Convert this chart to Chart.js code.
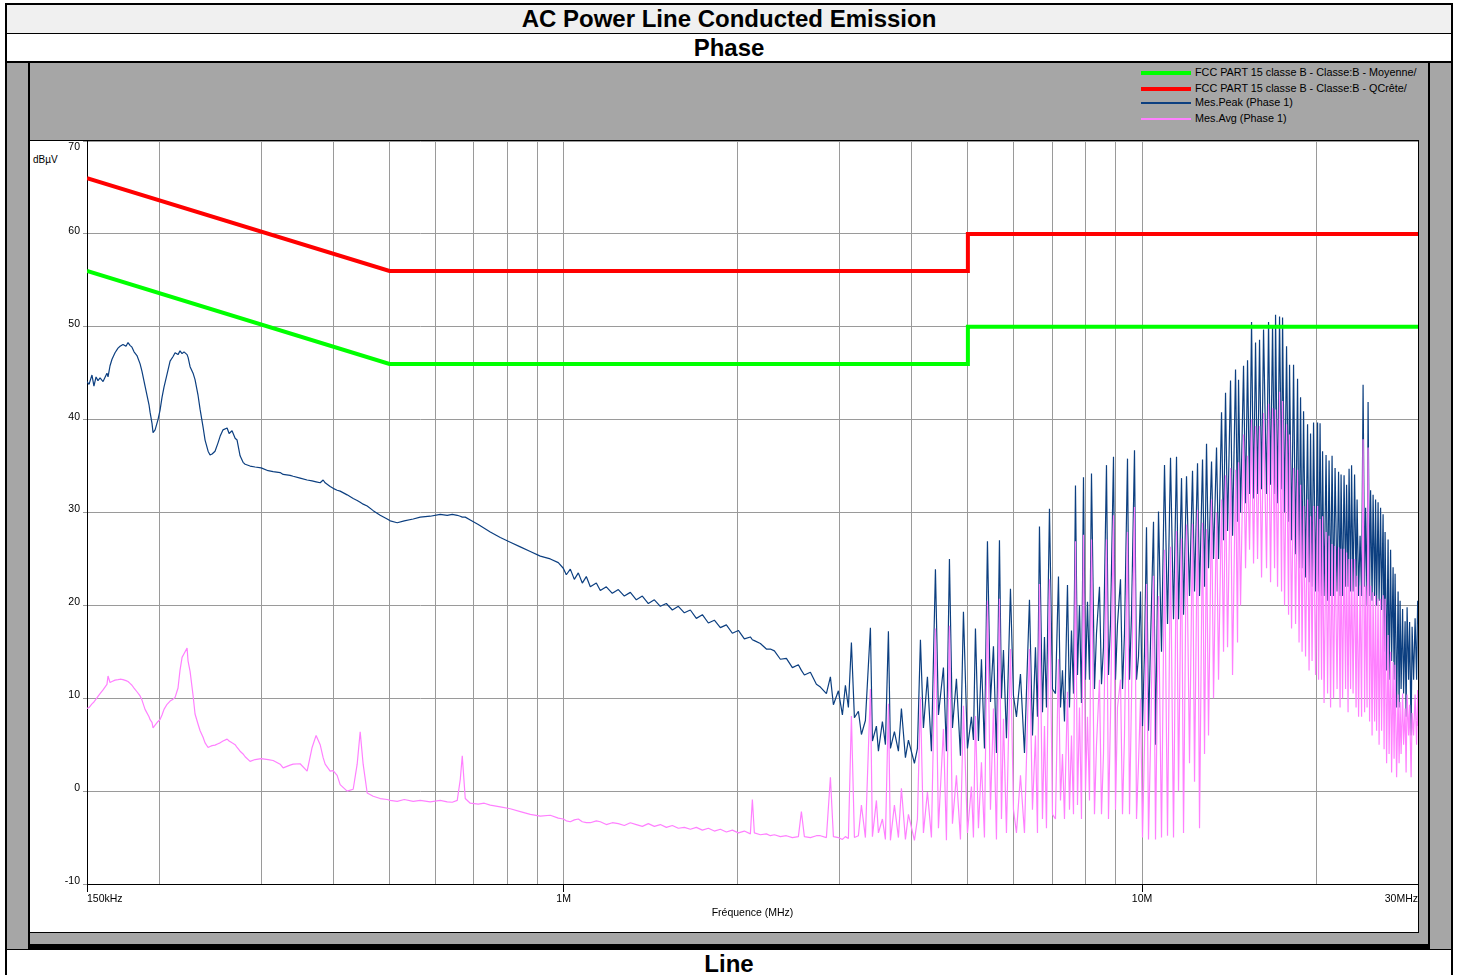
<!DOCTYPE html>
<html>
<head>
<meta charset="utf-8">
<title>AC Power Line Conducted Emission</title>
<script src="https://cdn.jsdelivr.net/npm/chart.js@4.4.0/dist/chart.umd.min.js"></script>
<style>
  body { margin: 0; background: #fff; font-family: "Liberation Sans", Arial, sans-serif; }
  .bande { position: absolute; left: 5px; width: 1444px; border-left: 2px solid #000; border-right: 2px solid #000;
           text-align: center; font-weight: bold; font-size: 24px; color: #000; }
  #titre { top: 3px; height: 28px; line-height: 28px; border-top: 2px solid #000; border-bottom: 1px solid #000; background: #f0f0f0; }
  #phase { top: 34px; height: 27px; line-height: 27px; border-bottom: 2px solid #000; background: #fff; }
  #cadre { top: 63px; height: 886px; background: #a6a6a6; }
  #ligne { top: 949px; height: 26px; line-height: 28px; border-top: 1px solid #000; background: #fff; }
  #panneau { position: absolute; left: 28px; top: 63px; width: 1398px; height: 881px; background: #a6a6a6;
             border-left: 2px solid #000; border-right: 2px solid #000; border-bottom: 5px solid #000; }
  #fond { position: absolute; left: 30px; top: 140px; width: 1388px; height: 791px; background: #fff;
          border-top: 1px solid #000; border-right: 1px solid #000; border-bottom: 1px solid #000; }
  #zone { position: absolute; left: 31px; top: 141px; width: 1387px; height: 791px; }
  #unite { position: absolute; left: 33px; top: 154px; font-size: 10px; line-height: 12px; color: #000; }
  #legende { position: absolute; left: 1141px; top: 65px; font-size: 10.8px; color: #000; }
  #legende .item { position: absolute; left: 0; height: 14px; white-space: nowrap; }
  #legende .trait { position: absolute; left: 0; width: 50px; }
  #legende .txt { position: absolute; left: 54px; top: 0; line-height: 14px; }
</style>
</head>
<body>
<div class="bande" id="titre">AC Power Line Conducted Emission</div>
<div class="bande" id="phase">Phase</div>
<div class="bande" id="cadre"></div>
<div id="panneau"></div>
<div id="fond"></div>
<div id="unite">dBµV</div>
<div id="legende"></div>
<div id="zone"><canvas id="grafik_emission"></canvas></div>
<div class="bande" id="ligne">Line</div>

<script>
var freqMHz = [
  0.1500, 0.1512, 0.1530, 0.1542, 0.1555, 0.1567, 0.1580, 0.1599, 0.1624, 0.1631,
  0.1644, 0.1657, 0.1677, 0.1697, 0.1711, 0.1731, 0.1752, 0.1766, 0.1780, 0.1794,
  0.1809, 0.1830, 0.1853, 0.1867, 0.1890, 0.1920, 0.1928, 0.1943, 0.1951, 0.1967,
  0.1990, 0.2006, 0.2022, 0.2038, 0.2063, 0.2088, 0.2113, 0.2130, 0.2155, 0.2172,
  0.2190, 0.2207, 0.2234, 0.2243, 0.2261, 0.2288, 0.2306, 0.2334, 0.2353, 0.2381,
  0.2400, 0.2429, 0.2448, 0.2468, 0.2497, 0.2527, 0.2548, 0.2578, 0.2620, 0.2641,
  0.2672, 0.2705, 0.2726, 0.2759, 0.2792, 0.2815, 0.2871, 0.2929, 0.3000, 0.3085,
  0.3147, 0.3236, 0.3275, 0.3367, 0.3408, 0.3504, 0.3603, 0.3675, 0.3734, 0.3795,
  0.3840, 0.3871, 0.3949, 0.3996, 0.4060, 0.4109, 0.4225, 0.4328, 0.4397, 0.4450,
  0.4503, 0.4576, 0.4687, 0.4819, 0.4955, 0.5015, 0.5157, 0.5303, 0.5496, 0.5652,
  0.5881, 0.6120, 0.6293, 0.6420, 0.6549, 0.6628, 0.6681, 0.6761, 0.6897, 0.7120,
  0.7293, 0.7469, 0.7773, 0.8089, 0.8417, 0.8759, 0.9115, 0.9485, 0.9792, 0.9989,
  1.0109, 1.0272, 1.0437, 1.0604, 1.0774, 1.0947, 1.1123, 1.1392, 1.1575, 1.1855,
  1.2141, 1.2435, 1.2736, 1.3044, 1.3359, 1.3682, 1.4013, 1.4352, 1.4699, 1.5054,
  1.5418, 1.5791, 1.6173, 1.6564, 1.6964, 1.7375, 1.7795, 1.8225, 1.8666, 1.9117,
  1.9579, 2.0053, 2.0537, 2.1034, 2.1202, 2.1372, 2.1889, 2.2418, 2.2778, 2.3144,
  2.3703, 2.4276, 2.4863, 2.5464, 2.5771, 2.6080, 2.6711, 2.7357, 2.7796, 2.8468,
  2.8925, 2.9273, 2.9861, 3.0341, 3.0705, 3.1074, 3.1448, 3.1826, 3.2337, 3.2726,
  3.3251, 3.3920, 3.4191, 3.4740, 3.5018, 3.5580, 3.6007, 3.6440, 3.6732, 3.7321,
  3.7920, 3.8376, 3.8992, 3.9461, 4.0415, 4.0901, 4.1393, 4.1890, 4.2562, 4.3246,
  4.3940, 4.4468, 4.5362, 4.5907, 4.6459, 4.7018, 4.7772, 4.8540, 4.9123, 4.9912,
  5.0713, 5.1118, 5.1527, 5.2146, 5.2773, 5.3407, 5.4049, 5.4699, 5.5356, 5.6021,
  5.6694, 5.7148, 5.7605, 5.8297, 5.9234, 5.9945, 6.0665, 6.1640, 6.2629, 6.3888,
  6.4656, 6.5433, 6.5957, 6.6484, 6.7283, 6.7821, 6.8363, 6.9185, 7.0016, 7.0858,
  7.1709, 7.2283, 7.2861, 7.3443, 7.4326, 7.4920, 7.5520, 7.6123, 7.6731, 7.7345,
  7.7964, 7.8588, 7.9215, 7.9849, 8.0487, 8.1131, 8.1780, 8.2762, 8.3424, 8.4427,
  8.5102, 8.5782, 8.6812, 8.7507, 8.8208, 8.9267, 8.9981, 9.0701, 9.1791, 9.2525,
  9.3264, 9.4385, 9.5140, 9.5901, 9.7053, 9.7829, 9.8611, 9.9401, 10.0195, 10.0996,
  10.1803, 10.2617, 10.3439, 10.4681, 10.5518, 10.6786, 10.8071, 10.9369, 11.0683, 11.2014,
  11.3359, 11.4721, 11.5639, 11.7029, 11.7964, 11.9381, 12.0816, 12.2269, 12.3247, 12.4728,
  12.5725, 12.7236, 12.8253, 12.9278, 13.0312, 13.1879, 13.2933, 13.4530, 13.5606, 13.7236,
  13.8333, 13.9439, 14.0554, 14.2244, 14.3381, 14.5103, 14.6264, 14.6847, 14.8023, 14.9801,
  15.0998, 15.2206, 15.3423, 15.4651, 15.5886, 15.7132, 15.8389, 15.9655, 16.0934, 16.2219,
  16.4168, 16.5481, 16.6806, 16.8139, 16.9483, 17.0159, 17.1520, 17.2891, 17.4275, 17.4969,
  17.6368, 17.7778, 17.9199, 17.9914, 18.1355, 18.2804, 18.4265, 18.5739, 18.6852, 18.7972,
  18.9098, 19.0230, 19.1750, 19.3284, 19.4442, 19.5608, 19.6780, 19.7957, 19.9540, 20.1136,
  20.1938, 20.3149, 20.4366, 20.5180, 20.6410, 20.8059, 20.9306, 21.0560, 21.1823, 21.3092,
  21.4367, 21.5651, 21.7375, 21.8678, 21.9989, 22.0868, 22.2190, 22.3522, 22.4860, 22.5757,
  22.7110, 22.8016, 22.9383, 23.0298, 23.1677, 23.3065, 23.4459, 23.5395, 23.6806, 23.8226,
  23.9654, 24.1089, 24.2533, 24.3500, 24.4958, 24.5937, 24.7410, 24.8399, 24.9887, 25.0883,
  25.2386, 25.3392, 25.4403, 25.5928, 25.6949, 25.8490, 25.9521, 26.1075, 26.2117, 26.3161,
  26.4738, 26.6325, 26.7387, 26.8991, 27.0064, 27.1681, 27.2765, 27.3852, 27.5493, 27.7144,
  27.8250, 27.9361, 28.0476, 28.2156, 28.3281, 28.4977, 28.6114, 28.7256, 28.8978, 29.0131,
  29.1870, 29.3035, 29.4789, 29.6554, 29.8331, 29.9600, 30.0000
];

// Mes.Peak (Phase 1) en dBµV
var peakDb = [
  44.1, 43.8, 44.8, 43.6, 44.6, 44.2, 44.5, 44.1, 45.0, 44.6,
  45.8, 46.5, 47.2, 47.7, 47.9, 48.1, 47.9, 48.3, 48.0, 47.8,
  47.3, 46.9, 46.0, 45.2, 43.6, 41.6, 40.8, 39.6, 38.6, 38.9,
  40.0, 41.0, 42.4, 43.5, 44.9, 46.3, 46.8, 47.2, 47.0, 47.4,
  47.1, 47.3, 47.0, 46.7, 45.7, 45.0, 44.3, 42.6, 41.1, 39.2,
  37.8, 36.6, 36.2, 36.3, 36.6, 37.5, 38.2, 38.9, 39.1, 38.5,
  38.8, 38.0, 37.8, 36.1, 35.4, 35.2, 35.0, 34.9, 34.8, 34.5,
  34.4, 34.3, 34.1, 34.0, 33.9, 33.7, 33.5, 33.4, 33.3, 33.2,
  33.5, 33.2, 32.8, 32.6, 32.4, 32.3, 31.9, 31.5, 31.3, 31.1,
  30.9, 30.7, 30.2, 29.7, 29.3, 29.1, 28.9, 29.1, 29.3, 29.5,
  29.6, 29.8, 29.7, 29.8, 29.7, 29.6, 29.5, 29.5, 29.2, 28.7,
  28.3, 27.9, 27.3, 26.8, 26.3, 25.8, 25.3, 25.0, 24.6, 24.0,
  23.3, 23.9, 22.8, 23.5, 22.4, 23.1, 22.0, 22.4, 21.6, 22.0,
  21.3, 21.7, 21.0, 21.4, 20.6, 21.0, 20.2, 20.6, 19.9, 20.2,
  19.5, 19.9, 19.2, 19.5, 18.6, 19.0, 18.1, 18.4, 17.6, 17.9,
  17.0, 17.3, 16.4, 16.6, 16.3, 16.2, 15.9, 15.3, 15.3, 15.1,
  14.2, 14.3, 13.3, 13.6, 13.0, 12.5, 12.8, 11.5, 11.2, 10.5,
  12.3, 9.3, 10.8, 8.2, 11.4, 9.0, 16.0, 7.9, 8.6, 6.1,
  7.6, 17.6, 5.4, 7.0, 4.3, 7.5, 5.0, 17.2, 4.6, 6.4,
  4.3, 8.9, 3.6, 5.5, 3.0, 4.6, 16.3, 6.8, 12.3, 4.3,
  23.9, 8.2, 13.3, 4.3, 25.0, 6.8, 12.1, 3.8, 19.3, 4.6,
  8.0, 5.5, 17.5, 5.4, 14.2, 4.6, 26.9, 9.6, 15.6, 4.1,
  27.0, 10.0, 15.2, 5.7, 21.8, 10.3, 8.0, 12.6, 4.1, 20.6,
  6.0, 15.5, 8.0, 28.5, 8.5, 16.6, 9.0, 30.4, 11.0, 10.5,
  23.1, 9.0, 13.0, 7.5, 22.2, 9.0, 17.3, 10.5, 32.9, 12.5,
  20.0, 9.5, 33.8, 12.0, 20.4, 12.0, 34.2, 11.0, 17.0, 22.0,
  11.5, 15.5, 35.1, 12.5, 18.0, 36.0, 12.0, 18.0, 22.8, 11.0,
  17.0, 35.8, 12.0, 19.0, 36.7, 12.0, 14.5, 21.5, 7.0, 15.0,
  28.4, 6.5, 16.0, 29.0, 5.0, 30.1, 15.0, 35.1, 18.0, 35.9,
  18.5, 36.0, 18.5, 33.7, 19.0, 33.9, 21.0, 34.5, 21.5, 35.3,
  21.0, 35.7, 22.0, 37.4, 24.0, 35.5, 25.0, 37.0, 25.0, 40.8,
  27.0, 42.9, 28.0, 44.2, 27.5, 45.4, 29.0, 44.3, 30.0, 45.8,
  31.0, 46.4, 32.0, 50.5, 31.5, 48.3, 32.0, 48.6, 32.5, 49.7,
  32.0, 50.5, 33.0, 50.2, 32.0, 51.3, 31.0, 51.1, 32.5, 51.0,
  30.0, 47.9, 29.0, 45.9, 27.0, 45.9, 25.5, 44.4, 24.0, 42.4,
  24.0, 40.9, 23.0, 39.5, 22.5, 38.5, 22.0, 39.7, 21.5, 39.7,
  21.5, 39.6, 21.0, 36.6, 21.0, 36.2, 20.5, 35.6, 21.0, 36.1,
  21.0, 34.8, 21.5, 34.4, 21.0, 34.1, 21.0, 34.0, 22.0, 33.0,
  22.0, 34.7, 21.5, 35.1, 21.5, 34.1, 22.0, 31.4, 21.0, 27.5,
  21.0, 43.75, 22.0, 30.5, 20.0, 41.9, 21.0, 32.4, 20.5, 31.9,
  21.0, 31.4, 20.0, 31.1, 20.5, 30.5, 19.5, 29.8, 15.0, 27.9,
  13.0, 27.1, 12.0, 26.0, 14.0, 24.1, 12.0, 23.4, 9.0, 21.5,
  9.0, 20.5, 11.0, 19.6, 10.5, 18.3, 8.0, 19.8, 12.0, 18.2,
  6.0, 17.7, 12.0, 18.6, 12.0, 20.5, 18.0
];

// Mes.Avg (Phase 1) en dBµV
var avgDb = [
  8.9, 9.0, 9.4, 9.6, 9.9, 10.2, 10.5, 10.9, 11.5, 12.4,
  11.7, 11.8, 11.95, 12.0, 12.05, 12.0, 11.9, 11.8, 11.6, 11.4,
  11.1, 10.7, 10.25, 9.8, 8.8, 8.0, 7.7, 7.4, 6.8, 7.1,
  7.5, 7.7, 8.2, 8.8, 9.35, 9.7, 9.9, 10.1, 11.1, 13.0,
  14.4, 14.8, 15.4, 14.0, 12.9, 10.3, 8.3, 7.2, 6.5, 5.8,
  5.2, 4.7, 4.8, 4.9, 4.95, 5.1, 5.2, 5.4, 5.6, 5.4,
  5.2, 5.0, 4.7, 4.3, 4.0, 3.7, 3.2, 3.4, 3.5, 3.4,
  3.3, 2.9, 2.5, 2.8, 2.9, 2.95, 2.15, 4.7, 6.0, 5.0,
  3.6, 2.9, 2.15, 2.2, 1.7, 0.7, 0.0, 0.2, 2.9, 6.4,
  2.9, -0.2, -0.55, -0.8, -0.9, -1.0, -1.1, -0.9, -1.1, -1.0,
  -1.15, -1.0, -1.15, -1.2, -1.0, 1.25, 3.8, -0.8, -1.3, -1.4,
  -1.3, -1.5, -1.7, -1.9, -2.2, -2.5, -2.7, -2.6, -2.9, -3.0,
  -3.2, -3.3, -3.1, -3.0, -3.3, -3.4, -3.4, -3.2, -3.3, -3.6,
  -3.4, -3.5, -3.7, -3.4, -3.6, -3.8, -3.5, -3.8, -3.6, -3.9,
  -3.7, -4.0, -3.9, -4.1, -3.9, -4.2, -4.0, -4.3, -4.1, -4.4,
  -4.2, -4.5, -4.3, -4.6, -0.9, -4.5, -4.7, -4.6, -4.8, -4.7,
  -4.9, -4.8, -5.0, -4.9, -2.2, -4.9, -5.0, -4.8, -4.8, -5.0,
  1.5, -4.9, -5.0, -5.2, -4.9, -5.1, 8.1, -5.0, -4.8, -1.5,
  -5.0, 11.0, -4.9, -1.0, -4.5, -3.0, -5.2, 9.4, -5.3, -1.5,
  -5.0, 0.3, -5.2, -2.5, -5.3, -3.0, 10.1, -4.5, -0.1, -5.0,
  17.5, -4.0, 6.7, -5.3, 17.8, -3.5, 1.7, -5.2, 9.2, -4.5,
  0.5, -5.0, 8.1, -4.0, 3.1, -5.0, 20.5, -2.0, 8.9, -5.2,
  20.7, -3.0, 7.8, -4.5, 15.3, -2.0, -4.5, 1.7, -4.5, 15.3,
  -2.0, 6.0, -4.5, 22.3, -3.0, 7.0, -4.0, 22.8, -2.5, -3.0,
  14.2, -1.0, 4.0, -3.0, 10.7, -2.0, 6.0, -2.5, 26.9, -1.5,
  9.0, -3.0, 27.6, 0.0, 8.0, -1.0, 27.1, -2.5, 5.0, 12.0,
  -2.5, 4.0, 27.1, -3.0, 8.0, 29.7, -2.0, 9.0, 12.0, -2.5,
  6.0, 27.9, -2.5, 10.0, 30.6, -3.0, 3.0, 10.0, -5.0, 5.0,
  22.3, -5.2, 5.0, 23.2, -5.2, 21.0, -5.0, 26.0, -4.8, 26.3,
  -5.0, 28.0, 0.0, 27.2, -4.5, 28.7, 3.0, 28.8, 1.0, 30.3,
  -4.0, 28.9, 4.0, 28.2, 6.0, 31.4, 10.0, 30.0, 12.0, 31.4,
  15.0, 34.0, 15.5, 34.8, 12.5, 34.6, 16.0, 35.4, 20.0, 38.4,
  24.0, 36.1, 26.0, 40.0, 24.5, 39.3, 25.0, 39.3, 23.0, 40.7,
  24.0, 41.7, 22.5, 41.25, 24.0, 41.1, 22.0, 43.0, 21.5, 42.0,
  20.0, 39.5, 19.0, 38.4, 17.5, 34.8, 18.0, 34.6, 16.0, 33.0,
  15.0, 30.7, 14.5, 31.4, 13.0, 29.6, 14.0, 30.7, 12.5, 30.7,
  12.0, 29.3, 12.0, 29.6, 9.5, 27.9, 10.5, 27.5, 9.0, 26.6,
  10.0, 26.4, 11.0, 26.25, 9.0, 26.1, 10.0, 26.1, 11.0, 25.7,
  8.5, 25.0, 11.0, 25.0, 10.5, 25.0, 9.0, 23.2, 8.0, 22.1,
  8.0, 37.9, 8.5, 22.1, 9.0, 37.0, 7.5, 22.1, 6.0, 21.4,
  7.5, 21.1, 6.5, 20.7, 5.0, 20.7, 6.5, 21.1, 4.5, 20.7,
  3.0, 16.8, 4.0, 15.0, 2.0, 13.9, 3.5, 13.6, 1.5, 10.4,
  3.0, 9.6, 4.0, 10.5, 5.0, 8.9, 2.0, 10.4, 6.0, 9.3,
  1.5, 8.4, 6.0, 10.4, 5.0, 10.9, 7.0
];

// Limites FCC Part 15 classe B
var limitFreq = [0.15, 0.5, 5, 5, 30];
var limitMoyenne = [56, 46, 46, 50, 50];
var limitQCrete = [66, 56, 56, 60, 60];

// Graduations
var gridFreq = [0.15, 0.2, 0.3, 0.4, 0.5, 0.6, 0.7, 0.8, 0.9, 1, 2, 3, 4, 5, 6, 7, 8, 9, 10, 20, 30];
var xLabelFreq = [0.15, 1, 10, 30];
var xLabelText = ["150kHz", "1M", "10M", "30MHz"];
var yMin = -10;
var yMax = 70;
var yStep = 10;

var police = '"Liberation Sans", Arial, sans-serif';

function versPoints(xs, ys) {
  return xs.map(function (x, i) {
    return { x: x, y: ys[i] };
  });
}

function labelPour(v) {
  var i = xLabelFreq.indexOf(Number(v));
  return i >= 0 ? xLabelText[i] : "";
}

// Le "70" du haut est décalé vers le bas dans l'original
var labelHaut = {
  id: "labelHaut",
  afterDraw: function (chart) {
    var y = chart.scales.y;
    var ctx = chart.ctx;
    ctx.save();
    ctx.font = "10.5px " + police;
    ctx.fillStyle = "#000";
    ctx.textAlign = "right";
    ctx.textBaseline = "middle";
    ctx.fillText(String(yMax), y.right - 7, y.getPixelForValue(yMax) + 6);
    ctx.restore();
  },
};

const data = {
  datasets: [
    {
      label: "FCC PART 15 classe B - Classe:B - Moyenne/",
      data: versPoints(limitFreq, limitMoyenne),
      borderColor: "#00ff00",
      borderWidth: 4,
      order: 0,
    },
    {
      label: "FCC PART 15 classe B - Classe:B - QCrête/",
      data: versPoints(limitFreq, limitQCrete),
      borderColor: "#ff0000",
      borderWidth: 4,
      order: 1,
    },
    {
      label: "Mes.Peak (Phase 1)",
      data: versPoints(freqMHz, peakDb),
      borderColor: "#0c3f80",
      borderWidth: 1.2,
      borderJoinStyle: "bevel",
      order: 3,
    },
    {
      label: "Mes.Avg (Phase 1)",
      data: versPoints(freqMHz, avgDb),
      borderColor: "#ff80ff",
      borderWidth: 1.2,
      borderJoinStyle: "bevel",
      order: 2,
    },
  ],
};

const config = {
  type: "line",
  data: data,
  options: {
    responsive: true,
    maintainAspectRatio: false,
    animation: false,
    devicePixelRatio: 1,
    layout: { padding: 0 },
    elements: {
      point: { radius: 0 },
      line: { tension: 0, fill: false },
    },
    plugins: {
      legend: { display: false },
      tooltip: { enabled: false },
    },
    scales: {
      x: {
        type: "logarithmic",
        min: 0.15,
        max: 30,
        afterBuildTicks: function (axis) {
          axis.ticks = gridFreq.map(function (f) {
            return { value: f };
          });
        },
        afterFit: function (scale) {
          scale.height = 48;
          scale.paddingLeft = 0;
          scale.paddingRight = 0;
        },
        grid: {
          color: "#9a9a9a",
          lineWidth: 1,
          tickLength: 8,
          tickColor: function (ctx) {
            return ctx.tick && labelPour(ctx.tick.value) ? "#000" : "rgba(0,0,0,0)";
          },
        },
        border: { color: "#000", width: 1 },
        ticks: {
          autoSkip: false,
          maxRotation: 0,
          minRotation: 0,
          align: "inner",
          padding: 1,
          color: "#000",
          font: { family: police, size: 10.5 },
          callback: function (value) {
            return labelPour(value);
          },
        },
        title: {
          display: true,
          text: "Fréquence (MHz)",
          color: "#000",
          font: { family: police, size: 10.5 },
          padding: { top: 0, bottom: 13 },
        },
      },
      y: {
        min: yMin,
        max: yMax,
        afterFit: function (scale) {
          scale.width = 56;
          scale.paddingTop = 0;
          scale.paddingBottom = 0;
        },
        grid: {
          color: "#9a9a9a",
          lineWidth: 1,
          tickLength: 4,
        },
        border: { color: "#000", width: 1 },
        ticks: {
          stepSize: yStep,
          padding: 3,
          labelOffset: -3,
          color: "#000",
          font: { family: police, size: 10.5 },
          callback: function (value) {
            return value === yMax ? "" : String(value);
          },
        },
      },
    },
  },
  plugins: [labelHaut],
};

const grafik = document.getElementById("grafik_emission").getContext("2d");
const grafik_emission = new Chart(grafik, config);

// Légende en haut à droite, dans la zone grise
var legende = document.getElementById("legende");
var rangs = [0, 15.5, 30, 46];
grafik_emission.data.datasets.forEach(function (ds, i) {
  var epais = ds.borderWidth > 2;
  var item = document.createElement("div");
  item.className = "item";
  item.style.top = rangs[i] + "px";
  var trait = document.createElement("div");
  trait.className = "trait";
  trait.style.height = epais ? "4px" : "2px";
  trait.style.top = epais ? "6px" : "7px";
  trait.style.background = ds.borderColor;
  var txt = document.createElement("div");
  txt.className = "txt";
  txt.textContent = ds.label;
  item.appendChild(trait);
  item.appendChild(txt);
  legende.appendChild(item);
});
</script>
</body>
</html>
